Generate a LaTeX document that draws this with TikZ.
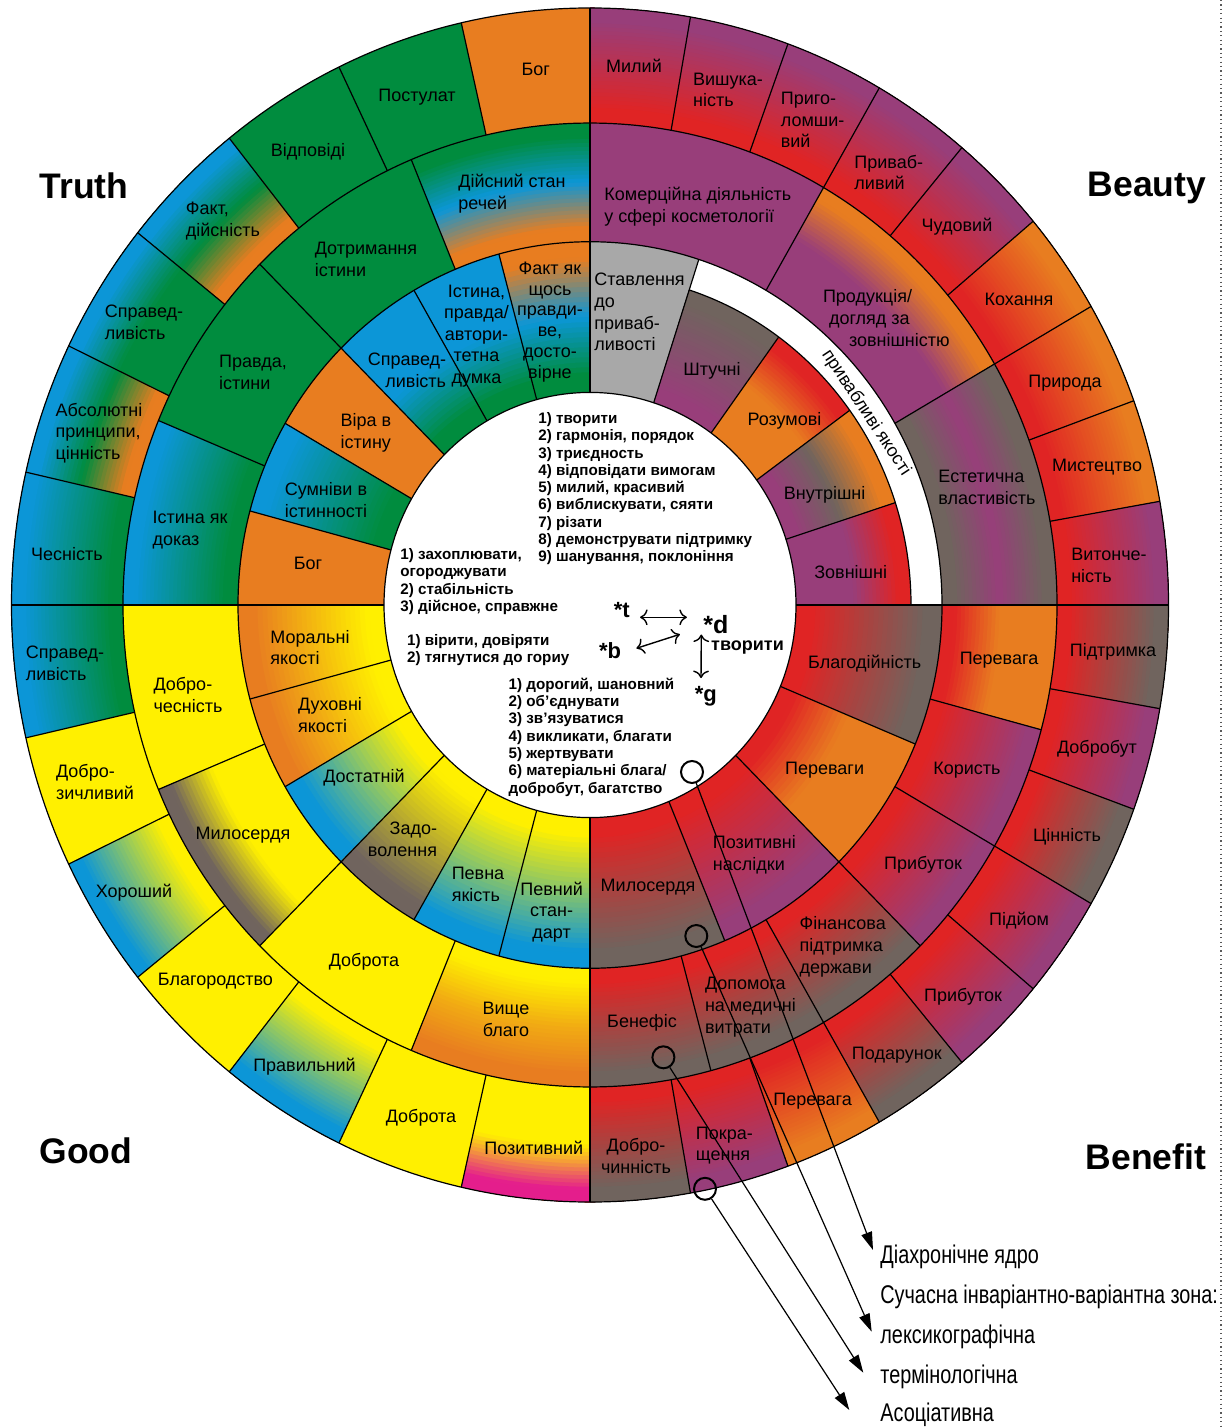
\documentclass[tikz,border=0pt]{standalone}
\usepackage{fontspec}
\setmainfont{Liberation Sans}
\newfontfamily\narrowfont[FakeStretch=0.775]{Liberation Sans}
\usetikzlibrary{arrows.meta}
\definecolor{cG}{RGB}{0,140,62}
\definecolor{cB}{RGB}{12,150,215}
\definecolor{cO}{RGB}{232,125,32}
\definecolor{cY}{RGB}{255,240,0}
\definecolor{cP}{RGB}{152,62,122}
\definecolor{cR}{RGB}{224,36,36}
\definecolor{cK}{RGB}{112,100,94}
\definecolor{cL}{RGB}{168,168,168}
\definecolor{cM}{RGB}{228,30,140}
\newcommand\lblfont{\fontsize{9}{10.9}\selectfont}
\newcommand\Sec[4]{(#1:#3) arc[start angle=#1,end angle=#2,radius=#3] -- (#2:#4) arc[start angle=#2,end angle=#1,radius=#4] -- cycle}
\newcommand\solid[5]{\fill[#5] \Sec{#1}{#2}{#3}{#4};}
\newcommand\grad[7]{%
  \colorlet{gA}{#5}\colorlet{gB}{#6}\colorlet{gC}{#7}%
  \foreach \k in {0,...,29}{%
    \pgfmathsetmacro\gR{#3+(#4-#3)*\k/30}%
    \pgfmathsetmacro\gT{max(0,min(200,(\k/29-0.1)/0.8*200))}%
    \ifdim\gT pt<100pt\relax
      \fill[gB!\gT!gA] \Sec{#1}{#2}{\gR}{#4};%
    \else
      \pgfmathsetmacro\gU{\gT-100}%
      \fill[gC!\gU!gB] \Sec{#1}{#2}{\gR}{#4};%
    \fi}}
\tikzset{
  lbl/.style={font=\lblfont, inner sep=0pt, align=center},
  lbll/.style={lbl, align=left},
  lblr/.style={lbl, align=right},
  ctrtxt/.style={font=\fontsize{7.6}{8.65}\selectfont\bfseries, align=left, inner sep=0pt, anchor=west},
  symb/.style={font=\fontsize{11}{12}\selectfont\bfseries, inner sep=0pt, anchor=base},
  cellline/.style={line width=0.6pt, draw=black},
  ttl/.style={font=\fontsize{17.75}{20}\selectfont\bfseries, inner sep=0pt},
  legtxt/.style={font=\narrowfont\fontsize{12.8}{14}\selectfont, anchor=west, inner sep=0pt},
  mk/.style={circle, draw, line width=1pt, minimum size=11pt, inner sep=0pt},
  pointer/.style={line width=0.6pt, -{Triangle[length=9pt,width=5.5pt]}},
  dbl/.style={line width=0.7pt, {To[scale=1.2]}-{To[scale=1.2]}}
}
\begin{document}
\begin{tikzpicture}[x=0.5pt,y=0.5pt]
\fill[white] (0,0) rectangle (1229,-1427);
\path[use as bounding box] (0,0) rectangle (1229,-1427);

\begin{scope}[shift={(590,-605)}, yscale=1.032]
% ---------- Truth: inner ring
\grad{90}{105}{206}{352}{cG}{cB}{cO}
\grad{105}{120}{206}{352}{cG}{cB}{cB}
\grad{120}{135}{206}{352}{cG}{cB}{cB}
\solid{135}{150}{206}{352}{cO}
\grad{150}{165}{206}{352}{cG}{cG!50!cB}{cB}
\solid{165}{180}{206}{352}{cO}
% Truth: middle ring
\grad{90}{112.5}{352}{467}{cO}{cB}{cG}
\solid{112.5}{135}{352}{467}{cG}
\solid{135}{157.5}{352}{467}{cG}
\grad{157.5}{180}{352}{467}{cG}{cG!50!cB}{cB}
% Truth: outer ring
\solid{90}{102.857}{467}{578.5}{cO}
\solid{102.857}{115.714}{467}{578.5}{cG}
\solid{115.714}{128.571}{467}{578.5}{cG}
\grad{128.571}{141.429}{467}{578.5}{cO}{cG}{cB}
\grad{141.429}{154.286}{467}{578.5}{cG}{cG}{cB}
\grad{154.286}{167.143}{467}{578.5}{cO}{cG}{cB}
\grad{167.143}{180}{467}{578.5}{cG}{cG!50!cB}{cB}
% ---------- Good: inner ring
\grad{180}{195}{206}{352}{cY}{cY!50!cO}{cO}
\grad{195}{210}{206}{352}{cY}{cY!50!cO}{cO}
\grad{210}{225}{206}{352}{cY}{cY!50!cB}{cB}
\grad{225}{240}{206}{352}{cY}{cY!50!cK}{cK}
\grad{240}{255}{206}{352}{cY}{cY!50!cB}{cB}
\grad{255}{270}{206}{352}{cY}{cY!50!cB}{cB}
% Good: middle ring
\solid{180}{202.5}{352}{467}{cY}
\grad{202.5}{225}{352}{467}{cY}{cY}{cK}
\solid{225}{247.5}{352}{467}{cY}
\grad{247.5}{270}{352}{467}{cY}{cO!60!cY}{cO}
% Good: outer ring
\grad{180}{192.857}{467}{578.5}{cG}{cG!50!cB}{cB}
\solid{192.857}{205.714}{467}{578.5}{cY}
\grad{205.714}{218.571}{467}{578.5}{cY}{cY!50!cB}{cB}
\solid{218.571}{231.429}{467}{578.5}{cY}
\grad{231.429}{244.286}{467}{578.5}{cY}{cY!50!cB}{cB}
\solid{244.286}{257.143}{467}{578.5}{cY}
\grad{257.143}{270}{467}{578.5}{cY}{cY}{cM}
% ---------- Benefit: inner ring
\grad{337.5}{360}{206}{352}{cR}{cR!50!cK}{cK}
\grad{315}{337.5}{206}{352}{cR}{cO}{cO}
\grad{292.5}{315}{206}{352}{cR}{cR!50!cP}{cP}
\grad{270}{292.5}{206}{352}{cR}{cR!50!cK}{cK}
% Benefit: middle ring
\grad{345}{360}{352}{467}{cR}{cO}{cO}
\grad{330}{345}{352}{467}{cR}{cR!50!cP}{cP}
\grad{315}{330}{352}{467}{cR}{cR!50!cP}{cP}
\grad{300}{315}{352}{467}{cR}{cR!50!cK}{cK}
\grad{285}{300}{352}{467}{cR}{cR!50!cK}{cK}
\grad{270}{285}{352}{467}{cR}{cR!50!cK}{cK}
% Benefit: outer ring
\grad{350}{360}{467}{578.5}{cR}{cR!50!cK}{cK}
\grad{340}{350}{467}{578.5}{cR}{cR!50!cP}{cP}
\grad{330}{340}{467}{578.5}{cR}{cR!50!cK}{cK}
\grad{320}{330}{467}{578.5}{cR}{cR!50!cP}{cP}
\grad{310}{320}{467}{578.5}{cR}{cR!50!cP}{cP}
\grad{300}{310}{467}{578.5}{cR}{cR!50!cK}{cK}
\grad{290}{300}{467}{578.5}{cR}{cR!50!cO}{cO}
\grad{280}{290}{467}{578.5}{cR}{cR!50!cP}{cP}
\grad{270}{280}{467}{578.5}{cR}{cR!50!cK}{cK}
% ---------- Beauty: inner ring
\solid{72}{90}{206}{352}{cL}
\grad{54}{72}{206}{321}{cP}{cP!50!cK}{cK}
\grad{36}{54}{206}{321}{cO}{cO}{cR}
\grad{18}{36}{206}{321}{cP}{cK}{cO}
\grad{0}{18}{206}{321}{cP}{cP}{cR}
\solid{0}{72}{321}{352}{white}
% Beauty: middle ring
\solid{60}{90}{352}{467}{cP}
\grad{30}{60}{352}{467}{cP}{cP}{cO}
\grad{0}{30}{352}{467}{cK}{cP}{cK}
% Beauty: outer ring
\grad{80}{90}{467}{578.5}{cR}{cR!50!cP}{cP}
\grad{70}{80}{467}{578.5}{cR}{cR!50!cP}{cP}
\grad{60}{70}{467}{578.5}{cR}{cR!50!cP}{cP}
\grad{50}{60}{467}{578.5}{cR}{cR!50!cP}{cP}
\grad{40}{50}{467}{578.5}{cR}{cR!50!cP}{cP}
\grad{30}{40}{467}{578.5}{cR}{cR!50!cO}{cO}
\grad{20}{30}{467}{578.5}{cR}{cR!50!cO}{cO}
\grad{10}{20}{467}{578.5}{cR}{cR!50!cO}{cO}
\grad{0}{10}{467}{578.5}{cR}{cR!50!cP}{cP}
% ---------- centre disc and outlines
\fill[white] (0,0) circle[radius=206];
\draw[cellline] (0,0) circle[radius=206];
\draw[cellline] (0,0) circle[radius=352];
\draw[cellline] (0,0) circle[radius=467];
\draw[cellline] (0,0) circle[radius=578.5];
\draw[cellline] (0:321) arc[start angle=0,end angle=72,radius=321];
\foreach \a in {0,90,180,270}{\draw[cellline] (\a:206) -- (\a:578.5);}
\foreach \a in {72,105,120,135,150,165,195,210,225,240,255,292.5,315,337.5}{\draw[cellline] (\a:206) -- (\a:352);}
\foreach \a in {18,36,54}{\draw[cellline] (\a:206) -- (\a:321);}
\foreach \a in {30,60,112.5,135,157.5,202.5,225,247.5,285,300,315,330,345}{\draw[cellline] (\a:352) -- (\a:467);}
\foreach \a in {10,20,30,40,50,60,70,80,102.857,115.714,128.571,141.429,154.286,167.143,192.857,205.714,218.571,231.429,244.286,257.143,280,290,300,310,320,330,340,350}{\draw[cellline] (\a:467) -- (\a:578.5);}
% text in the white band
\node[lbl, rotate=-56.5] (band) at (34:333) {привабливі якості};
\end{scope}

% ---------- Truth labels
\node[lbl] (tr1) at (535.8,-69) {Бог};
\node[lbl] (tr2) at (417,-97) {Постулат};
\node[lbl] (tr3) at (308,-152) {Відповіді};
\node[lbll] (tr4) at (223,-221) {Факт,\\дійсність};
\node[lbll] (tr5) at (144,-322) {Справед-\\ливість};
\node[lbll] (tr6) at (99,-433) {Абсолютні\\принципи,\\цінність};
\node[lbl] (tr7) at (67,-553.6) {Чесність};
\node[lbll] (tm1) at (512,-194) {Дійсний стан\\речей};
\node[lbll] (tm2) at (366,-259) {Дотримання\\істини};
\node[lbll] (tm3) at (253,-372) {Правда,\\істини};
\node[lbll] (tm4) at (190,-530) {Істина як\\доказ};
\node[lbl, font=\fontsize{9}{10.4}\selectfont] (ti1) at (550,-322) {Факт як\\щось\\правди-\\ве,\\досто-\\вірне};
\node[lbl, font=\fontsize{9}{10.8}\selectfont] (ti2) at (476.5,-336) {Істина,\\правда/\\автори-\\тетна\\думка};
\node[lblr] (ti3) at (407,-370) {Справед-\\ливість};
\node[lbll] (ti4) at (366,-433) {Віра в\\істину};
\node[lbll] (ti5) at (326,-500) {Сумніви в\\істинності};
\node[lbl] (ti6) at (308,-563.5) {Бог};
% ---------- Beauty labels
\node[lbl] (bo1) at (634,-66) {Милий};
\node[lbll] (bo2) at (728,-90) {Вишука-\\ність};
\node[lbll] (bo3) at (812.6,-120) {Приго-\\ломши-\\вий};
\node[lbll] (bo4) at (888.8,-172.5) {Приваб-\\ливий};
\node[lbl] (bo5) at (957,-226.6) {Чудовий};
\node[lbl] (bo6) at (1019,-299) {Кохання};
\node[lbl] (bo7) at (1065,-383) {Природа};
\node[lbl] (bo8) at (1097,-467) {Мистецтво};
\node[lbll] (bo9) at (1109,-565.6) {Витонче-\\ність};
\node[lbll, anchor=west] (bm1) at (604,-206.6) {Комерційна діяльність\\у сфері косметології};
\node[lbll, anchor=west] (bm2) at (822.6,-318) {Продукція/\\\hspace*{3pt}догляд за\\\hspace*{13pt}зовнішністю};
\node[lbll] (bm3) at (987,-487) {Естетична\\властивість};
\node[lbll, anchor=west] (bi1) at (594,-312) {Ставлення\\до\\приваб-\\ливості};
\node[lbl] (bi2) at (712,-371) {Штучні};
\node[lbl] (bi3) at (784.5,-421) {Розумові};
\node[lbl] (bi4) at (824.6,-495) {Внутрішні};
\node[lbl] (bi5) at (850.7,-571.6) {Зовнішні};
% ---------- Good labels
\node[lbll] (go1) at (65,-663) {Справед-\\ливість};
\node[lbll] (go2) at (95,-782) {Добро-\\зичливий};
\node[lbl] (go3) at (134,-892.6) {Хороший};
\node[lbl] (go4) at (215.5,-981.6) {Благородство};
\node[lbl] (go5) at (304.5,-1066.6) {Правильний};
\node[lbl] (go6) at (421,-1118) {Доброта};
\node[lbl] (go7) at (533.8,-1147.6) {Позитивний};
\node[lbll] (gm1) at (188,-695) {Добро-\\чесність};
\node[lbl] (gm2) at (243,-835) {Милосердя};
\node[lbl] (gm3) at (364,-961.8) {Доброта};
\node[lbl] (gm4) at (506,-1019) {Вище\\благо};
\node[lbll] (gi1) at (310,-647.5) {Моральні\\якості};
\node[lbll] (gi2) at (330,-714.7) {Духовні\\якості};
\node[lbl] (gi3) at (364,-778) {Достатній};
\node[lblr] (gi4) at (402.5,-839) {Задо-\\волення};
\node[lbll] (gi5) at (478,-884.7) {Певна\\якість};
\node[lbl] (gi6) at (551.6,-912) {Певний\\стан-\\дарт};
% ---------- Benefit labels
\node[lbl] (ni1) at (864.7,-664) {Благодійність};
\node[lbl] (ni2) at (824.6,-770.5) {Переваги};
\node[lbll] (ni3) at (754.4,-854.7) {Позитивні\\наслідки};
\node[lbl] (ni4) at (648,-886.8) {Милосердя};
\node[lbl] (nm1) at (999,-660) {Перевага};
\node[lbl] (nm2) at (967,-770.5) {Користь};
\node[lbl] (nm3) at (923,-864.7) {Прибуток};
\node[lbll] (nm4) at (842.7,-947) {Фінансова\\підтримка\\держави};
\node[lbll] (nm5) at (750.4,-1007) {Допомога\\на медичні\\витрати};
\node[lbl] (nm6) at (642,-1023) {Бенефіс};
\node[lbl] (no1) at (1113,-652) {Підтримка};
\node[lbl] (no2) at (1097,-748.4) {Добробут};
\node[lbl] (no3) at (1067,-836.7) {Цінність};
\node[lbl] (no4) at (1019,-921) {Підйом};
\node[lbl] (no5) at (963,-997) {Прибуток};
\node[lbl] (no6) at (896.8,-1055) {Подарунок};
\node[lbl] (no7) at (812.6,-1101.4) {Перевага};
\node[lbll] (no8) at (724.4,-1145.5) {Покра-\\щення};
\node[lbl] (no9) at (636,-1156) {Добро-\\чинність};

% ---------- centre texts
\node[ctrtxt] (cA) at (538,-488.7) {1) творити\\2) гармонія, порядок\\3) триєдность\\4) відповідати вимогам\\5) милий, красивий\\6) виблискувати, сяяти\\7) різати\\8) демонструвати підтримку\\9) шанування, поклоніння};
\node[ctrtxt] (cB) at (400,-581.7) {1) захоплювати,\\огороджувати\\2) стабільність\\3) дійсное, справжне};
\node[ctrtxt] (cC) at (406.7,-650) {1) вірити, довіряти\\2) тягнутися до гориу};
\node[ctrtxt] (cD) at (508.3,-737.2) {1) дорогий, шановний\\2) об'єднувати\\3) зв'язуватися\\4) викликати, благати\\5) жертвувати\\6) матеріальні блага/\\добробут, багатство};
\node[symb] (st) at (621.7,-617.3) {*t};
\node[symb, font=\fontsize{12.5}{14}\selectfont\bfseries] (sd) at (715.8,-633.3) {*d};
\node[symb] (sb) at (610,-658.3) {*b};
\node[symb] (sg) at (705.8,-701.7) {*g};
\node[font=\fontsize{9}{10}\selectfont\bfseries, inner sep=0pt, anchor=base] (stv) at (747.5,-650.7) {творити};
\draw[dbl] ([xshift=5pt]st.base east) -- ([xshift=-8pt,yshift=8pt]sd.base west);
\draw[dbl] ([xshift=7.5pt,yshift=5pt]sb.base east) -- ([xshift=-11.5pt,yshift=-0.5pt]sd.base west);
\draw[dbl] ([xshift=-0.8pt,yshift=-0.6pt]sd.base west) -- ([xshift=3.3pt,yshift=11.8pt]sg.base west);

% ---------- titles
\node[ttl] (tTruth) at (84,-186) {Truth};
\node[ttl] (tBeauty) at (1147,-188) {Beauty};
\node[ttl] (tGood) at (86,-1151) {Good};
\node[ttl] (tBenefit) at (1146,-1157) {Benefit};

% ---------- legend
\node[legtxt] (lg1) at (880,-1257) {Діахронічне ядро};
\node[legtxt] (lg2) at (880,-1297) {Сучасна інваріантно-варіантна зона:};
\node[legtxt] (lg3) at (880,-1337) {лексикографічна};
\node[legtxt] (lg4) at (880,-1377) {термінологічна};
\node[legtxt] (lg5) at (880,-1415) {Асоціативна};

% ---------- markers and pointers
\node[mk] (m1) at (692,-772) {};
\node[mk] (m2) at (696.3,-936) {};
\node[mk] (m3) at (663.4,-1057.3) {};
\node[mk] (m4) at (705,-1188.8) {};
\draw[pointer] (m1) -- ([shift={(-7,7)}]lg1.west);
\draw[pointer] (m2) -- ([shift={(-8.3,5.3)}]lg3.west);
\draw[pointer] (m3) -- ([shift={(-16.7,4.3)}]lg4.west);
\draw[pointer] (m4) -- ([shift={(-30.7,5)}]lg5.west);

% ---------- dotted margin line
\draw[line width=0.7pt, gray!70!black, dash pattern=on 0.6pt off 1.6pt] (1221,0) -- (1221,-1427);
\end{tikzpicture}
\end{document}
